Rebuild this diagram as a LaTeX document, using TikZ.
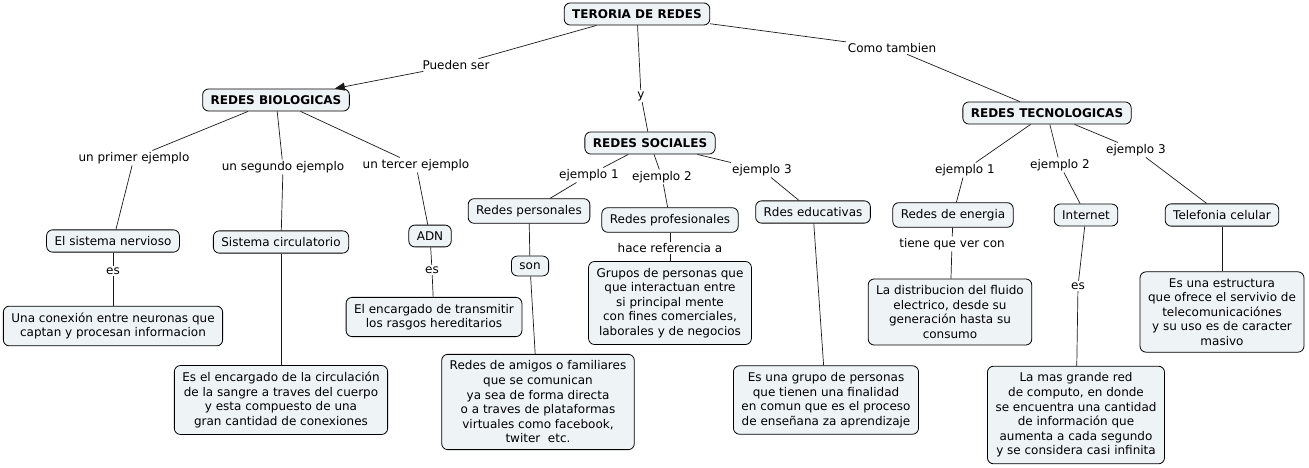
\documentclass[tikz,border=0pt]{standalone}
\usepackage{fontspec}
\setmainfont{DejaVu Sans}
\usetikzlibrary{arrows.meta}
\definecolor{boxfill}{HTML}{EEF3F5}
\definecolor{linec}{HTML}{1A1A1A}
\begin{document}
\begin{tikzpicture}[x=1pt,y=-1pt,
  concept/.style={draw=black, fill=boxfill, rounded corners=6pt, line width=0.8pt,
    inner xsep=8pt, inner ysep=6.5pt, align=center, font=\fontsize{12}{14.6}\selectfont},
  main/.style={concept, font=\fontsize{12}{14.6}\selectfont\bfseries, inner ysep=6.5pt},
  lbl/.style={inner sep=1.5pt, font=\fontsize{12}{14}\selectfont},
  conn/.style={draw=linec, line width=0.7pt}]
\useasboundingbox (0,0) rectangle (1309,468);
% main nodes
\node[main] (teoria) at (637,14) {TERORIA DE REDES};
\node[main] (bio) at (276,100) {REDES BIOLOGICAS};
\node[main] (soc) at (650,143) {REDES SOCIALES};
\node[main] (tec) at (1047,113) {REDES TECNOLOGICAS};
% top labels
\node[lbl] (lpueden) at (456,65) {Pueden ser};
\node[lbl] (ly) at (641,96) {y};
\node[lbl] (lcomo) at (892,48) {Como tambien};
% biologicas
\node[lbl] (lb1) at (134,158) {un primer ejemplo};
\node[lbl] (lb2) at (283,167) {un segundo ejemplo};
\node[lbl] (lb3) at (416,165) {un tercer ejemplo};
\node[concept] (nerv) at (113,241) {El sistema nervioso};
\node[concept] (circ) at (281,242) {Sistema circulatorio};
\node[concept] (adn) at (430,236) {ADN};
\node[lbl] (les1) at (113,271) {es};
\node[lbl] (les2) at (432,270) {es};
\node[concept] (conex) at (113,326) {Una conexión entre neuronas que\\captan y procesan informacion};
\node[concept] (sangre) at (281,400) {Es el encargado de la circulación\\de la sangre a traves del cuerpo\\y esta compuesto de una\\gran cantidad de conexiones};
\node[concept] (rasgos) at (434,317) {El encargado de transmitir\\los rasgos hereditarios};
% sociales
\node[lbl] (ls1) at (589,175) {ejemplo 1};
\node[lbl] (ls2) at (662,177) {ejemplo 2};
\node[lbl] (ls3) at (762,170) {ejemplo 3};
\node[concept] (pers) at (529,211) {Redes personales};
\node[concept] (son) at (530,266) {son};
\node[concept] (amigos) at (538,402) {Redes de amigos o familiares\\que se comunican\\ya sea de forma directa\\o a traves de plataformas\\virtuales como facebook,\\twiter\ \ etc.};
\node[concept] (prof) at (670,220) {Redes profesionales};
\node[lbl] (lhace) at (670,248) {hace referencia a};
\node[concept] (grupos) at (670,303) {Grupos de personas que\\que interactuan entre\\si principal mente\\con fines comerciales,\\laborales y de negocios};
\node[concept] (edu) at (813,212) {Rdes educativas};
\node[concept] (ensen) at (826,400) {Es una grupo de personas\\que tienen una finalidad\\en comun que es el proceso\\de enseñana za aprendizaje};
% tecnologicas
\node[lbl] (lt1) at (965,170) {ejemplo 1};
\node[lbl] (lt2) at (1060,165) {ejemplo 2};
\node[lbl] (lt3) at (1136,150) {ejemplo 3};
\node[concept] (energ) at (953,215) {Redes de energia};
\node[lbl] (ltiene) at (952,244) {tiene que ver con};
\node[concept] (fluido) at (950,312) {La distribucion del fluido\\electrico, desde su\\generación hasta su\\consumo};
\node[concept] (inter) at (1086,215) {Internet};
\node[lbl] (les3) at (1078,286) {es};
\node[concept] (grande) at (1076,415) {La mas grande red\\de computo, en donde\\se encuentra una cantidad\\de información que\\aumenta a cada segundo\\y se considera casi infinita};
\node[concept] (tel) at (1222,215) {Telefonia celular};
\node[concept] (estruc) at (1222,312) {Es una estructura\\que ofrece el servivio de\\telecomunicaciónes\\y su uso es de caracter\\masivo};
% connectors
\draw[conn] (teoria) -- (lpueden);
\draw[conn,-{Triangle[length=10pt,width=8pt]}] (lpueden) -- (bio);
\draw[conn] (teoria) -- (ly) -- (soc);
\draw[conn] (teoria) -- (lcomo) -- (tec);
\draw[conn] (bio) -- (lb1) -- (nerv);
\draw[conn] (bio) -- (lb2) -- (circ);
\draw[conn] (bio) -- (lb3) -- (adn);
\draw[conn] (nerv) -- (les1) -- (conex);
\draw[conn] (circ) -- (sangre);
\draw[conn] (adn) -- (les2) -- (rasgos);
\draw[conn] (soc) -- (ls1) -- (pers);
\draw[conn] (pers) -- (son);
\draw[conn] (son) -- (amigos);
\draw[conn] (soc) -- (ls2) -- (prof);
\draw[conn] (prof) -- (lhace) -- (grupos);
\draw[conn] (soc) -- (ls3) -- (edu);
\draw[conn] (edu) -- (ensen);
\draw[conn] (tec) -- (lt1) -- (energ);
\draw[conn] (energ) -- (ltiene) -- (fluido);
\draw[conn] (tec) -- (lt2) -- (inter);
\draw[conn] (inter) -- (les3) -- (grande);
\draw[conn] (tec) -- (lt3) -- (tel);
\draw[conn] (tel) -- (estruc);
\end{tikzpicture}
\end{document}
